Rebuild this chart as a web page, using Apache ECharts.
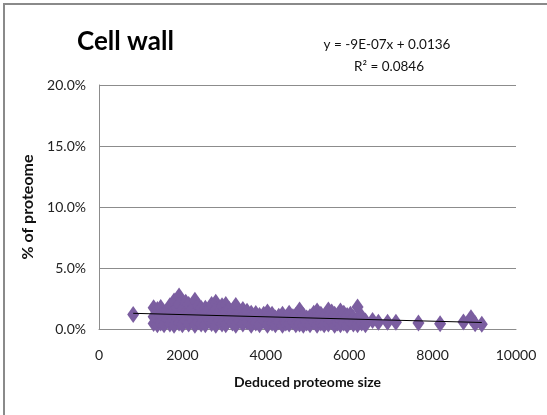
<!DOCTYPE html>
<html>
<head>
<meta charset="utf-8">
<script src="https://cdn.jsdelivr.net/npm/echarts@6/dist/echarts.min.js"></script>
<style>
  html, body { margin: 0; padding: 0; background: #fff; }
  #chart { width: 547px; height: 415px; }
</style>
</head>
<body>
<div id="chart"></div>
<script>
// Deduced proteome size (number of proteins) per genome
const proteomeSize = [
  820,
  1310, 1310, 1310,
  1400, 1400,
  1480, 1480, 1480,
  1560, 1560,
  1640, 1640,
  1700, 1700, 1700,
  1800, 1800, 1800,
  1870, 1870,
  1920, 1920, 1920,
  2000, 2000, 2000,
  2080, 2080,
  2150, 2150, 2150,
  2230, 2230,
  2300, 2300, 2300,
  2380, 2380,
  2450, 2450, 2450,
  2550, 2550, 2550,
  2620, 2620,
  2700, 2700, 2700,
  2800, 2800, 2800,
  2880, 2880,
  2950, 2950, 2950,
  3040, 3040, 3040,
  3120, 3120,
  3200, 3200,
  3280, 3280, 3280,
  3360, 3360,
  3450, 3450, 3450,
  3550, 3550,
  3650, 3650, 3650,
  3760, 3760,
  3850, 3850,
  3950, 3950,
  4040, 4040, 4040,
  4150, 4150,
  4230, 4230,
  4310, 4310,
  4400, 4400,
  4480, 4480,
  4560, 4560,
  4650, 4650,
  4720, 4720,
  4810, 4810, 4810,
  4900, 4900,
  4980, 4980,
  5060, 5060,
  5150, 5150,
  5230, 5230, 5230,
  5320, 5320,
  5400, 5400,
  5500, 5500, 5500,
  5580, 5580,
  5650, 5650,
  5720, 5720,
  5790, 5790, 5790,
  5870, 5870,
  5950, 5950,
  6030, 6030,
  6100, 6100,
  6200, 6200, 6200,
  6300, 6300,
  6390, 6390,
  6560, 6700, 6920, 7120, 7660, 8180, 8740, 8920, 9020, 9180
];

// Share of the proteome assigned to the cell wall category (percent)
const cellWallPct = [
  1.18,
  1.75, 1.0, 0.45,
  1.6, 0.35,
  1.77, 1.1, 0.5,
  1.3, 0.35,
  1.5, 0.8,
  1.9, 1.2, 0.4,
  2.3, 1.5, 0.3,
  1.7, 0.9,
  2.7, 2.0, 0.5,
  1.6, 1.0, 0.35,
  2.2, 0.7,
  2.0, 1.3, 0.4,
  1.6, 0.8,
  2.35, 1.2, 0.3,
  1.9, 0.6,
  1.7, 1.0, 0.4,
  1.7, 1.3, 0.35,
  1.5, 0.8,
  2.0, 1.1, 0.45,
  2.2, 1.6, 0.3,
  1.4, 0.7,
  1.9, 1.1, 0.4,
  2.0, 1.4, 0.35,
  1.6, 0.8,
  1.5, 0.5,
  1.93, 1.1, 0.3,
  1.4, 0.7,
  1.6, 1.0, 0.4,
  1.45, 0.6,
  1.3, 0.9, 0.3,
  1.27, 0.5,
  1.1, 0.35,
  1.2, 0.7,
  1.4, 0.9, 0.3,
  1.2, 0.5,
  0.9, 0.35,
  1.05, 0.6,
  1.2, 0.3,
  0.9, 0.5,
  1.3, 0.4,
  1.0, 0.6,
  1.1, 0.35,
  1.56, 0.8, 0.4,
  1.1, 0.3,
  0.9, 0.5,
  1.0, 0.35,
  1.3, 0.6,
  1.48, 0.9, 0.3,
  1.2, 0.5,
  1.0, 0.35,
  1.55, 0.8, 0.4,
  1.4, 0.6,
  1.2, 0.3,
  1.0, 0.5,
  1.48, 0.7, 0.35,
  1.3, 0.5,
  1.1, 0.3,
  1.2, 0.6,
  0.9, 0.4,
  1.8, 0.8, 0.35,
  1.0, 0.5,
  0.66, 0.35,
  0.7, 0.55, 0.56, 0.56, 0.5, 0.44, 0.58, 0.93, 0.44, 0.39
];

// Linear trend line as stated on the chart: y = -9E-07x + 0.0136
const trendSlope = -9e-7;
const trendIntercept = 0.0136;
const trendLabel = ['y = -9E-07x + 0.0136', 'R\u00B2 = 0.0846'];

const xTicks = [0, 2000, 4000, 6000, 8000, 10000];
const yTicks = [0, 5, 10, 15, 20];

const FONT = 'Lato, "Open Sans", sans-serif';
const GRID_GRAY = '#8c8c8c';

const points = proteomeSize.map((s, i) => [s, cellWallPct[i]]);
const xMin = Math.min(...proteomeSize);
const xMax = Math.max(...proteomeSize);
const trendPoints = [xMin, xMax].map(x => [x, (trendSlope * x + trendIntercept) * 100]);

const chart = echarts.init(document.getElementById('chart'), null, { renderer: 'canvas' });

chart.setOption({
  animation: false,
  backgroundColor: '#ffffff',
  grid: { left: 99, right: 31, top: 85, bottom: 86 },
  xAxis: {
    type: 'value',
    min: xTicks[0],
    max: xTicks[xTicks.length - 1],
    interval: xTicks[1] - xTicks[0],
    name: 'Deduced proteome size',
    nameLocation: 'middle',
    nameGap: 46,
    nameTextStyle: { fontFamily: FONT, fontWeight: 'bold', fontSize: 14, color: '#111' },
    axisLine: { show: true, lineStyle: { color: GRID_GRAY, width: 1 } },
    axisTick: { show: false },
    splitLine: { show: false },
    axisLabel: { margin: 19, fontFamily: FONT, fontSize: 14, color: '#222', formatter: v => String(v) }
  },
  yAxis: {
    type: 'value',
    min: yTicks[0],
    max: yTicks[yTicks.length - 1],
    interval: yTicks[1] - yTicks[0],
    name: '% of proteome',
    nameLocation: 'middle',
    nameRotate: 90,
    nameGap: 55,
    nameTextStyle: { fontFamily: FONT, fontWeight: 'bold', fontSize: 16, color: '#111' },
    axisLine: { show: true, lineStyle: { color: GRID_GRAY, width: 1 } },
    axisTick: { show: false },
    splitLine: { show: true, lineStyle: { color: GRID_GRAY, width: 1 } },
    axisLabel: {
      margin: 13,
      fontFamily: FONT,
      fontSize: 14,
      color: '#222',
      formatter: v => v.toFixed(1) + '%'
    }
  },
  graphic: [
    {
      type: 'rect',
      silent: true,
      shape: { x: 4, y: 4, width: 620, height: 500 },
      style: { fill: 'none', stroke: '#8a8a8a', lineWidth: 2 }
    },
    {
      type: 'text',
      left: 77,
      top: 29,
      style: { text: 'Cell wall', fontFamily: FONT, fontWeight: 'bold', fontSize: 26, fill: '#000' }
    },
    {
      type: 'text',
      x: 387,
      y: 45,
      style: { text: trendLabel[0], fontFamily: FONT, fontSize: 13.5, fill: '#111', align: 'center', verticalAlign: 'middle' }
    },
    {
      type: 'text',
      x: 389,
      y: 67,
      style: { text: trendLabel[1], fontFamily: FONT, fontSize: 13.5, fill: '#111', align: 'center', verticalAlign: 'middle' }
    }
  ],
  series: [
    {
      name: 'Cell wall',
      type: 'scatter',
      symbol: 'diamond',
      symbolSize: [12, 17],
      itemStyle: { color: '#7B5EA0', opacity: 1 },
      data: points,
      z: 2
    },
    {
      name: 'Linear trend',
      type: 'line',
      symbol: 'none',
      lineStyle: { color: '#000', width: 1 },
      data: trendPoints,
      z: 3
    }
  ]
});
</script>
</body>
</html>
